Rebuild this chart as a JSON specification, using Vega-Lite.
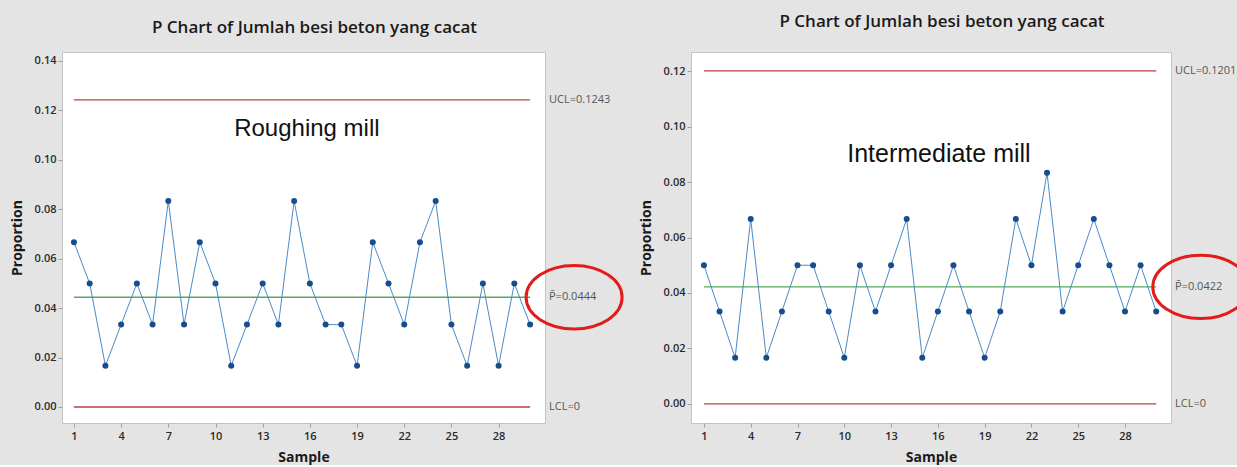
{
  "$schema": "https://vega.github.io/schema/vega-lite/v6.json",
  "background": "#e4e4e4",
  "padding": {"left": 9, "top": 12, "right": 0, "bottom": 0},
  "bounds": "flush",
  "spacing": 146,
  "datasets": {
    "rough": [
      {"sample": 1, "p": 0.066667}, {"sample": 2, "p": 0.05}, {"sample": 3, "p": 0.016667}, {"sample": 4, "p": 0.033333}, {"sample": 5, "p": 0.05},
      {"sample": 6, "p": 0.033333}, {"sample": 7, "p": 0.083333}, {"sample": 8, "p": 0.033333}, {"sample": 9, "p": 0.066667}, {"sample": 10, "p": 0.05},
      {"sample": 11, "p": 0.016667}, {"sample": 12, "p": 0.033333}, {"sample": 13, "p": 0.05}, {"sample": 14, "p": 0.033333}, {"sample": 15, "p": 0.083333},
      {"sample": 16, "p": 0.05}, {"sample": 17, "p": 0.033333}, {"sample": 18, "p": 0.033333}, {"sample": 19, "p": 0.016667}, {"sample": 20, "p": 0.066667},
      {"sample": 21, "p": 0.05}, {"sample": 22, "p": 0.033333}, {"sample": 23, "p": 0.066667}, {"sample": 24, "p": 0.083333}, {"sample": 25, "p": 0.033333},
      {"sample": 26, "p": 0.016667}, {"sample": 27, "p": 0.05}, {"sample": 28, "p": 0.016667}, {"sample": 29, "p": 0.05}, {"sample": 30, "p": 0.033333}
    ],
    "inter": [
      {"sample": 1, "p": 0.05}, {"sample": 2, "p": 0.033333}, {"sample": 3, "p": 0.016667}, {"sample": 4, "p": 0.066667}, {"sample": 5, "p": 0.016667},
      {"sample": 6, "p": 0.033333}, {"sample": 7, "p": 0.05}, {"sample": 8, "p": 0.05}, {"sample": 9, "p": 0.033333}, {"sample": 10, "p": 0.016667},
      {"sample": 11, "p": 0.05}, {"sample": 12, "p": 0.033333}, {"sample": 13, "p": 0.05}, {"sample": 14, "p": 0.066667}, {"sample": 15, "p": 0.016667},
      {"sample": 16, "p": 0.033333}, {"sample": 17, "p": 0.05}, {"sample": 18, "p": 0.033333}, {"sample": 19, "p": 0.016667}, {"sample": 20, "p": 0.033333},
      {"sample": 21, "p": 0.066667}, {"sample": 22, "p": 0.05}, {"sample": 23, "p": 0.083333}, {"sample": 24, "p": 0.033333}, {"sample": 25, "p": 0.05},
      {"sample": 26, "p": 0.066667}, {"sample": 27, "p": 0.05}, {"sample": 28, "p": 0.033333}, {"sample": 29, "p": 0.05}, {"sample": 30, "p": 0.033333}
    ],
    "roughLimits": [
      {"name": "UCL", "p": 0.1243, "label": "UCL=0.1243"},
      {"name": "Center", "p": 0.0444, "label": "P\u0304=0.0444"},
      {"name": "LCL", "p": 0, "label": "LCL=0"}
    ],
    "interLimits": [
      {"name": "UCL", "p": 0.1201, "label": "UCL=0.1201"},
      {"name": "Center", "p": 0.0422, "label": "P\u0304=0.0422"},
      {"name": "LCL", "p": 0, "label": "LCL=0"}
    ]
  },
  "config": {
    "view": {"stroke": "#c4c4c4", "fill": "white", "strokeWidth": 1},
    "font": "Open Sans",
    "title": {"font": "Open Sans", "fontSize": 17, "fontWeight": 600, "color": "#1a1a1a", "anchor": "middle"},
    "axis": {"domain": false, "grid": false, "labelFont": "Open Sans", "labelFontSize": 11, "labelFontWeight": 600, "labelColor": "#2a2a2a", "tickColor": "#a0a0a0", "tickSize": 4, "titleFont": "Open Sans", "titleFontSize": 14, "titleFontWeight": "bold", "titleColor": "#1a1a1a"},
    "axisX": {"labelPadding": 3, "titlePadding": 9},
    "axisY": {"labelPadding": 2, "titlePadding": 10}
  },
  "hconcat": [
    {
      "width": 483,
      "height": 371,
      "title": {"text": "P Chart of Jumlah besi beton yang cacat", "offset": 15, "dx": 11},
      "layer": [
        {
          "data": {"name": "roughLimits"},
          "mark": {"type": "rule", "strokeWidth": 1.3},
          "encoding": {
            "x": {"datum": 1, "type": "quantitative", "scale": {"domain": [0.24, 30.95], "nice": false, "zero": false}, "axis": {"values": [1, 4, 7, 10, 13, 16, 19, 22, 25, 28], "title": "Sample"}},
            "x2": {"datum": 30},
            "y": {"field": "p", "type": "quantitative", "scale": {"domain": [-0.00648, 0.14364], "nice": false, "zero": false}, "axis": {"values": [0, 0.02, 0.04, 0.06, 0.08, 0.1, 0.12, 0.14], "format": ".2f", "title": "Proportion"}},
            "color": {"field": "name", "type": "nominal", "scale": {"domain": ["UCL", "Center", "LCL"], "range": ["#b8413c", "#56a957", "#b8413c"]}, "legend": null}
          }
        },
        {
          "data": {"name": "rough"},
          "mark": {"type": "line", "color": "#4a8bc9", "strokeWidth": 1, "point": {"filled": true, "color": "#174d8c", "size": 36}},
          "encoding": {
            "x": {"field": "sample", "type": "quantitative"},
            "y": {"field": "p", "type": "quantitative"}
          }
        },
        {
          "data": {"name": "roughLimits"},
          "mark": {"type": "text", "align": "left", "baseline": "middle", "dx": 4, "fontSize": 11, "color": "#555555", "font": "Open Sans"},
          "encoding": {
            "x": {"datum": 30.95},
            "y": {"field": "p", "type": "quantitative"},
            "text": {"field": "label"}
          }
        },
        {
          "data": {"name": "roughLimits"},
          "transform": [{"filter": "datum.name === 'Center'"}],
          "mark": {"type": "point", "shape": "M-1,0A1,0.66,0,1,0,1,0A1,0.66,0,1,0,-1,0Z", "filled": false, "stroke": "#e31b1b", "strokeWidth": 3, "size": 9216, "opacity": 1},
          "encoding": {
            "x": {"datum": 32.8},
            "y": {"field": "p", "type": "quantitative"}
          }
        },
        {
          "data": {"values": [{"label": "Roughing mill"}]},
          "mark": {"type": "text", "font": "Liberation Sans", "fontSize": 24, "color": "#111111", "baseline": "middle"},
          "encoding": {
            "x": {"datum": 15.81},
            "y": {"datum": 0.1125},
            "text": {"field": "label"}
          }
        }
      ]
    },
    {
      "width": 480,
      "height": 371,
      "title": {"text": "P Chart of Jumlah besi beton yang cacat", "offset": 21, "dx": 11},
      "layer": [
        {
          "data": {"name": "interLimits"},
          "mark": {"type": "rule", "strokeWidth": 1.3},
          "encoding": {
            "x": {"datum": 1, "type": "quantitative", "scale": {"domain": [0.17, 30.95], "nice": false, "zero": false}, "axis": {"values": [1, 4, 7, 10, 13, 16, 19, 22, 25, 28], "title": "Sample"}},
            "x2": {"datum": 30},
            "y": {"field": "p", "type": "quantitative", "scale": {"domain": [-0.00687, 0.12687], "nice": false, "zero": false}, "axis": {"values": [0, 0.02, 0.04, 0.06, 0.08, 0.1, 0.12], "format": ".2f", "title": "Proportion"}},
            "color": {"field": "name", "type": "nominal", "scale": {"domain": ["UCL", "Center", "LCL"], "range": ["#b8413c", "#56a957", "#b8413c"]}, "legend": null}
          }
        },
        {
          "data": {"name": "inter"},
          "mark": {"type": "line", "color": "#4a8bc9", "strokeWidth": 1, "point": {"filled": true, "color": "#174d8c", "size": 36}},
          "encoding": {
            "x": {"field": "sample", "type": "quantitative"},
            "y": {"field": "p", "type": "quantitative"}
          }
        },
        {
          "data": {"name": "interLimits"},
          "mark": {"type": "text", "align": "left", "baseline": "middle", "dx": 4, "fontSize": 11, "color": "#555555", "font": "Open Sans"},
          "encoding": {
            "x": {"datum": 30.95},
            "y": {"field": "p", "type": "quantitative"},
            "text": {"field": "label"}
          }
        },
        {
          "data": {"name": "interLimits"},
          "transform": [{"filter": "datum.name === 'Center'"}],
          "mark": {"type": "point", "shape": "M-1,0A1,0.66,0,1,0,1,0A1,0.66,0,1,0,-1,0Z", "filled": false, "stroke": "#e31b1b", "strokeWidth": 3, "size": 9216, "opacity": 1},
          "encoding": {
            "x": {"datum": 32.86},
            "y": {"field": "p", "type": "quantitative"}
          }
        },
        {
          "data": {"values": [{"label": "Intermediate mill"}]},
          "mark": {"type": "text", "font": "Liberation Sans", "fontSize": 25, "color": "#111111", "baseline": "middle"},
          "encoding": {
            "x": {"datum": 16.07},
            "y": {"datum": 0.0901},
            "text": {"field": "label"}
          }
        }
      ]
    }
  ]
}
